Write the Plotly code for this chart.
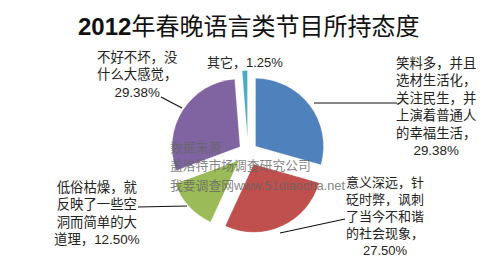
import plotly.graph_objects as go

labels = ["笑料多，并且选材生活化，关注民生，并上演着普通人的幸福生活",
          "意义深远，针砭时弊，讽刺了当今不和谐的社会现象",
          "低俗枯燥，就反映了一些空洞而简单的大道理",
          "不好不坏，没什么大感觉",
          "其它"]
values = [29.38, 27.50, 12.50, 29.38, 1.25]
colors = ["#4F81BD", "#C0504D", "#9BBB59", "#8064A2", "#4BACC6"]
label_texts = [
    "笑料多，并且<br>选材生活化，<br>关注民生，并<br>上演着普通人<br>的幸福生活，<br>29.38%",
    "意义深远，针<br>砭时弊，讽刺<br>了当今不和谐<br>的社会现象，<br>27.50%",
    "低俗枯燥，就<br>反映了一些空<br>洞而简单的大<br>道理，12.50%",
    "不好不坏，没<br>什么大感觉，<br>29.38%",
    "其它，1.25%",
]
title_text = "<b>2012</b>年春晚语言类节目所持态度"
source_lines = ["数据来源", "盖洛特市场调查研究公司", "我要调查网www.51diaocha.net"]

W, H = 495, 262
FONT = "Liberation Sans, Noto Sans CJK SC, sans-serif"

fig = go.Figure()
cx, cy, S = 248, 152, 163
fig.add_trace(go.Pie(
    labels=labels, values=values, sort=False, direction="clockwise", rotation=0,
    marker=dict(colors=colors, line=dict(color="rgba(255,255,255,0.4)", width=0.5)),
    pull=[0.14, 0.2, 0.18, 0.14, 0.2], textinfo="none", hoverinfo="label+percent",
    showlegend=False,
    domain=dict(x=[(cx - S / 2) / W, (cx + S / 2) / W],
                y=[(H - cy - S / 2) / H, (H - cy + S / 2) / H]),
))


def px(x):
    return x / W


def py(y):
    return 1 - y / H


annotations = []

# (center x, first line center y, font size) in pixels; line step = 1.3 * size
label_pos = [(436, 63, 13.4), (385, 183, 13), (97, 187, 13.4),
             (137, 58, 13.4), (245, 62, 13)]
for txt, (x, y0, size) in zip(label_texts, label_pos):
    n = txt.count("<br>") + 1
    yc = y0 + (n - 1) * 1.3 * size / 2
    annotations.append(dict(text=txt, x=px(x), y=py(yc), xref="paper", yref="paper",
                            xanchor="center", yanchor="middle", align="center",
                            showarrow=False,
                            font=dict(family=FONT, size=size, color="#222222")))

for i, line in enumerate(source_lines):
    annotations.append(dict(text=line, x=px(168), y=py(147 + 19 * i), xref="paper",
                            yref="paper", xanchor="left", yanchor="middle",
                            showarrow=False,
                            font=dict(family=FONT, size=12.8,
                                      color="rgba(100,100,100,0.8)")))

annotations.append(dict(text=title_text, x=px(248), y=py(26), xref="paper",
                        yref="paper", xanchor="center", yanchor="middle", showarrow=False,
                        font=dict(family=FONT, size=24, color="#111111")))

leaders = [[(314, 103), (397, 103)],
           [(280, 233), (345, 219)],
           [(138, 207), (187, 206)],
           [(161, 97), (182, 108)]]
shapes = []
for (x0, y0), (x1, y1) in leaders:
    shapes.append(dict(type="line", xref="paper", yref="paper", x0=px(x0), y0=py(y0),
                       x1=px(x1), y1=py(y1), line=dict(color="#111111", width=1.2)))

fig.update_layout(width=W, height=H, margin=dict(l=0, r=0, t=0, b=0),
                  paper_bgcolor="white", plot_bgcolor="white",
                  annotations=annotations, shapes=shapes,
                  font=dict(family=FONT))
fig.write_html("out.html")
